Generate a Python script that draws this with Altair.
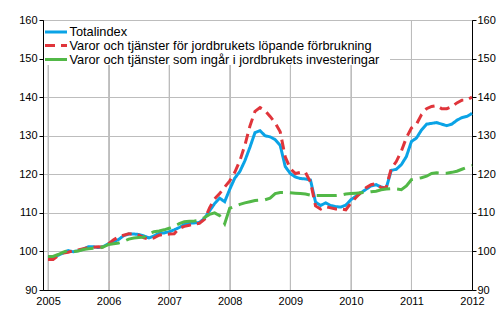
import altair as alt
import pandas as pd

S1 = "Totalindex"
S2 = "Varor och tjänster för jordbrukets löpande förbrukning"
S3 = "Varor och tjänster som ingår i jordbrukets investeringar"
series_names = [S1, S2, S3]
series_colors = ["#0aa3e6", "#e0353b", "#52b847"]
series_dashes = [[1, 0], [10, 6], [20, 7]]

start_year = 2005
year_ticks = [2005, 2006, 2007, 2008, 2009, 2010, 2011, 2012]
y_ticks = [90, 100, 110, 120, 130, 140, 150, 160]

# Monthly values Jan 2005 ... Jan 2012
totalindex = [
    98.3, 98.5, 99.0, 99.6, 100.2, 99.9, 100.2, 100.6, 101.2, 101.2, 101.0, 101.3,
    102.0, 102.5, 103.1, 104.1, 104.5, 104.5, 104.4, 104.0, 103.5, 104.0, 104.7, 104.8,
    105.1, 105.6, 106.2, 107.0, 107.3, 107.4, 107.5, 108.6, 110.5, 112.4, 113.8, 112.9,
    116.1, 119.0, 120.7, 123.5, 127.0, 130.8, 131.3, 130.0, 129.7, 129.0, 127.5, 122.0,
    120.2, 119.3, 118.9, 118.8, 118.5, 112.8, 111.9, 112.6, 111.9, 111.6, 111.5, 112.0,
    113.4, 114.3, 115.2, 116.1, 117.0, 117.3, 116.7, 116.4, 121.0, 121.3, 122.5, 124.6,
    128.5, 129.4, 131.5, 133.0, 133.2, 133.4, 133.0, 132.6, 133.0, 134.0, 134.7, 135.0,
    135.8,
]
lopande = [
    97.9, 97.9, 98.9, 99.6, 99.8, 100.2, 100.4, 100.7, 101.0, 101.1, 101.2, 101.1,
    102.0, 103.0, 103.8, 104.2, 104.6, 104.5, 104.2, 103.5, 103.2, 103.5, 104.2, 104.4,
    104.5, 104.6, 106.0, 106.5, 106.8, 107.1, 107.3, 108.3, 111.3, 113.6, 115.0, 116.7,
    118.3, 120.5, 123.5, 127.5, 132.5, 136.3, 137.3, 136.5, 135.0, 133.3, 131.0, 124.5,
    121.5, 120.2, 120.5, 120.5, 118.0, 111.8, 111.0, 111.6, 111.3, 111.0, 111.0, 110.8,
    112.5, 114.0, 115.3, 116.5, 117.3, 117.6, 116.5, 116.6, 121.5, 123.3, 126.0, 129.5,
    132.0, 133.0, 135.5, 137.0, 137.6, 137.8, 137.0, 137.0, 137.5, 138.5, 139.2, 139.3,
    140.0,
]
investeringar = [
    98.7, 98.7, 99.2, 99.8, 100.2, 100.0, 100.1, 100.5, 100.7, 100.8, 100.8, 101.2,
    101.8, 102.0, 102.2, 102.6, 103.2, 103.5, 103.6, 103.7, 104.6, 105.1, 105.3, 105.6,
    106.0, 106.5, 107.2, 107.7, 107.8, 107.9, 108.1, 108.8, 109.6, 110.0, 109.3, 107.2,
    111.2, 111.7, 112.2, 112.6, 112.9, 113.2, 113.3, 113.4, 113.8, 115.0, 115.3, 115.3,
    115.2, 115.1, 115.0, 114.9, 114.6, 114.5, 114.5, 114.5, 114.5, 114.5, 114.6, 114.9,
    115.0, 115.1, 115.2, 115.3, 115.5, 115.6, 116.0, 116.2, 116.3, 116.2, 116.0, 117.0,
    118.6, 118.9, 119.1, 119.5, 120.2, 120.4, 120.3, 120.3, 120.5, 120.8, 121.3, 121.8,
    122.3,
]

rows = []
for name, vals in zip(series_names, [totalindex, lopande, investeringar]):
    for i, v in enumerate(vals):
        rows.append({"t": start_year + i / 12.0, "v": v, "series": name})
df = pd.DataFrame(rows)

FONT = "Liberation Sans"
GRID = "#bdbdbd"
xscale = alt.Scale(domain=[2004.917, 2012.0], nice=False, zero=False)
yscale = alt.Scale(domain=[90, 160], nice=False, zero=False)

x_axis = alt.Axis(values=year_ticks, format="d", ticks=True, tickSize=0, labelPadding=5,
                  labelFlush=False, labelOverlap=False, grid=True,
                  domainColor="black", labelFontSize=11)

# vertical year grid lines (through the x scale)
vgrid = alt.Chart(pd.DataFrame({"t": year_ticks[:-1]})).mark_rule(
    color=GRID, strokeWidth=1).encode(
    x=alt.X("t:Q", scale=xscale, title=None, axis=x_axis))

lines = alt.Chart(df).mark_line(strokeWidth=3).encode(
    x=alt.X("t:Q", scale=xscale, title=None, axis=x_axis),
    y=alt.Y("v:Q", scale=yscale, title=None,
            axis=alt.Axis(values=y_ticks, orient="left", tickSize=4, labelPadding=2,
                          grid=True, domainColor="black", tickColor="black",
                          labelFontSize=11)),
    color=alt.Color("series:N", scale=alt.Scale(domain=series_names, range=series_colors), legend=None),
    strokeDash=alt.StrokeDash("series:N", scale=alt.Scale(domain=series_names, range=series_dashes), legend=None),
)

right = alt.Chart(df).mark_line(opacity=0).encode(
    x=alt.X("t:Q", scale=xscale, title=None, axis=x_axis),
    y=alt.Y("v:Q", scale=yscale, title=None,
            axis=alt.Axis(values=y_ticks, orient="right", tickSize=4, labelPadding=1,
                          grid=False, domainColor="black", tickColor="black",
                          labelFontSize=11)),
)

one = pd.DataFrame({"a": [0]})
legend_bg = alt.Chart(one).mark_rect(color="white").encode(
    x=alt.value(1), x2=alt.value(347), y=alt.value(1), y2=alt.value(45))

legend_layers = []
ys = [12, 25.5, 39.5]
legend_dash = [[1, 0], [10, 6], [1, 0]]
for name, col, dash, yy in zip(series_names, series_colors, legend_dash, ys):
    legend_layers.append(
        alt.Chart(one).mark_rule(color=col, strokeWidth=3, strokeDash=dash).encode(
            x=alt.value(2), x2=alt.value(24), y=alt.value(yy)))
    legend_layers.append(
        alt.Chart(one).mark_text(align="left", baseline="middle", fontSize=12.8, font=FONT,
                                 color="black").encode(
            x=alt.value(26.5), y=alt.value(yy), text=alt.value(name)))

chart = alt.layer(vgrid, lines, right, legend_bg, *legend_layers).resolve_scale(
    y="independent"
).properties(
    width=429, height=270,
    autosize=alt.AutoSizeParams(type="none"),
    padding={"left": 43, "top": 20, "right": 28, "bottom": 40},
).configure_view(
    stroke="black", strokeWidth=1
).configure_axis(
    labelFont=FONT, labelColor="black", gridColor=GRID, gridWidth=1,
    domainWidth=1,
)

chart.save("out.html", embed_options={"renderer": "svg", "actions": False})
